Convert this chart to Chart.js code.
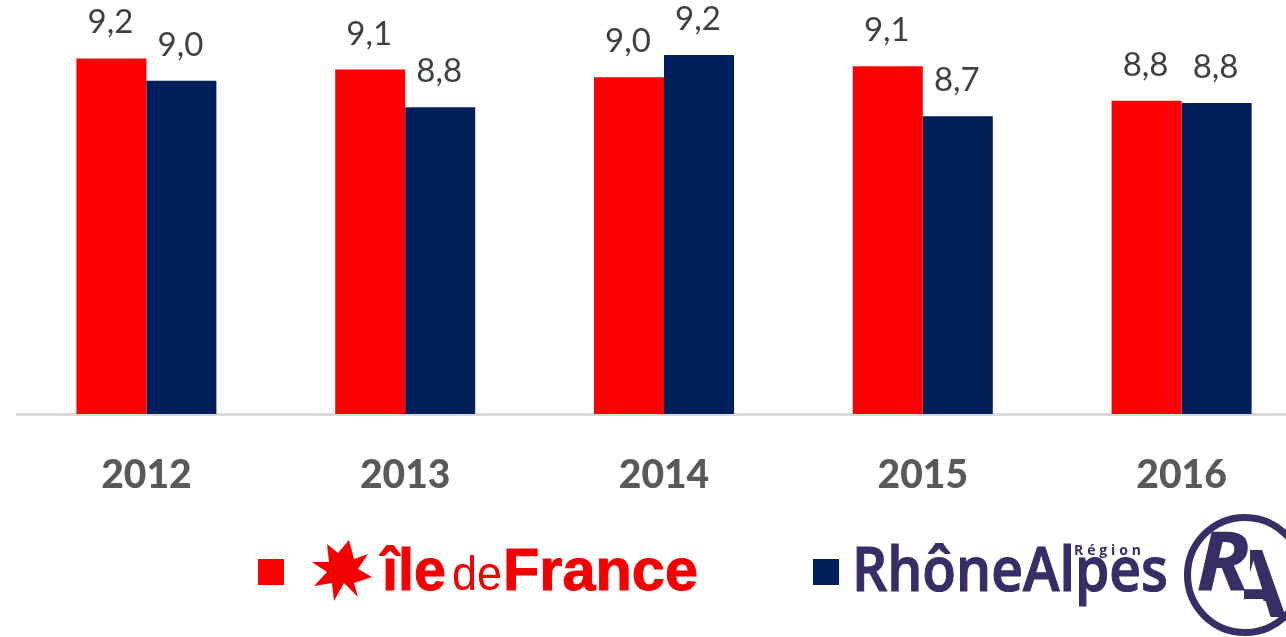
<!DOCTYPE html>
<html>
<head>
<meta charset="utf-8">
<title>Île-de-France / Rhône-Alpes</title>
<script src="https://cdn.jsdelivr.net/npm/chart.js@4/dist/chart.umd.min.js"></script>
<style>
  html, body { margin: 0; padding: 0; background: #fff; overflow: hidden; width: 1286px; height: 637px; }
  #wrap { position: relative; width: 1286px; height: 637px; overflow: hidden; }
  #chart-0 { position: absolute; left: 0; top: 0; }
  #legend { position: absolute; left: 0; top: 0; }
</style>
</head>
<body>
<div id="wrap">
  <canvas id="chart-0" width="1311" height="637" style="width:1311px;height:637px"></canvas>
  <svg id="legend" width="1286" height="637" viewBox="0 0 1286 637">
    <defs>
      <clipPath id="clip-a">
        <polygon points="1250,540 1290,540 1290,625 1270,625 1263,599 1244,599 1244,589 1250,589"/>
      </clipPath>
    </defs>
    <rect x="258" y="559" width="26" height="26" fill="#ff0000"/>
    <polygon fill="#f20000" points="327,544 338,553 349,540 354,559 368,554 358,569 372,577 354,583 358,597 344,583 334,601 332,583 314,586 327,572 312,562 329,562"/>
    <text x="382" y="589.5" font-family="Liberation Sans" font-weight="700" font-size="60" fill="#f20000" stroke="#f20000" stroke-width="1" textLength="64" lengthAdjust="spacingAndGlyphs">île</text>
    <text x="452" y="589.5" font-family="Liberation Sans" font-size="48" fill="#f20000" textLength="50" lengthAdjust="spacingAndGlyphs">de</text>
    <text x="503" y="589.5" font-family="Liberation Sans" font-weight="700" font-size="60" fill="#f20000" stroke="#f20000" stroke-width="1" textLength="195" lengthAdjust="spacingAndGlyphs">France</text>
    <rect x="813" y="559" width="26" height="26" fill="#00205b"/>
    <text x="852" y="590.5" font-family="Open Sans" font-weight="600" font-size="62" fill="#352f66" stroke="#352f66" stroke-width="1.2" textLength="316" lengthAdjust="spacingAndGlyphs">RhôneAlpes</text>
    <text x="1074" y="555" font-family="Open Sans" font-weight="700" font-size="14" fill="#352f66" textLength="67">Région</text>
    <circle cx="1245" cy="575" r="57.5" fill="none" stroke="#352f66" stroke-width="7"/>
    <text x="1196" y="591" font-family="Open Sans" font-weight="700" font-style="italic" font-size="83" fill="#352f66" textLength="54" lengthAdjust="spacingAndGlyphs">R</text>
    <text x="1221" y="617" font-family="Open Sans" font-weight="700" font-size="94" fill="#352f66" clip-path="url(#clip-a)">A</text>
  </svg>
</div>
<script>
  var years = ['2012', '2013', '2014', '2015', '2016'];
  var ileDeFrance = [9.2, 9.1, 9.03, 9.13, 8.82];
  var rhoneAlpes = [9.0, 8.76, 9.23, 8.68, 8.8];

  // draws the value above each bar, french decimal comma
  var barValues = {
    id: 'barValues',
    afterDatasetsDraw: function(chart) {
      var ctx = chart.ctx;
      ctx.save();
      ctx.font = '33px Lato';
      ctx.fillStyle = '#404040';
      ctx.textAlign = 'center';
      ctx.textBaseline = 'alphabetic';
      chart.data.datasets.forEach(function(dataset, i) {
        chart.getDatasetMeta(i).data.forEach(function(bar, j) {
          var label = dataset.data[j].toFixed(1).replace('.', ',');
          ctx.fillText(label, bar.x - 1, bar.y - 25);
        });
      });
      ctx.restore();
    }
  };

  var chart = new Chart('chart-0', {
    type: 'bar',
    data: {
      labels: years,
      datasets: [{
        backgroundColor: '#ff0000',
        data: ileDeFrance
      }, {
        backgroundColor: '#00205b',
        data: rhoneAlpes
      }]
    },
    options: {
      responsive: false,
      animation: false,
      layout: { padding: { left: 17, top: 14, right: 0, bottom: 0 } },
      plugins: { legend: { display: false }, tooltip: { enabled: false } },
      datasets: { bar: { categoryPercentage: 0.541, barPercentage: 1 } },
      scales: {
        x: {
          afterFit: function(scale) { scale.height = 223; },
          grid: { display: false },
          border: { color: '#d9d9d9', width: 3 },
          ticks: { color: '#595959', padding: 30, font: { family: 'Lato', weight: '900', size: 39 } }
        },
        y: {
          display: false,
          min: 6,
          max: 9.6
        }
      }
    },
    plugins: [barValues]
  });
</script>
</body>
</html>
